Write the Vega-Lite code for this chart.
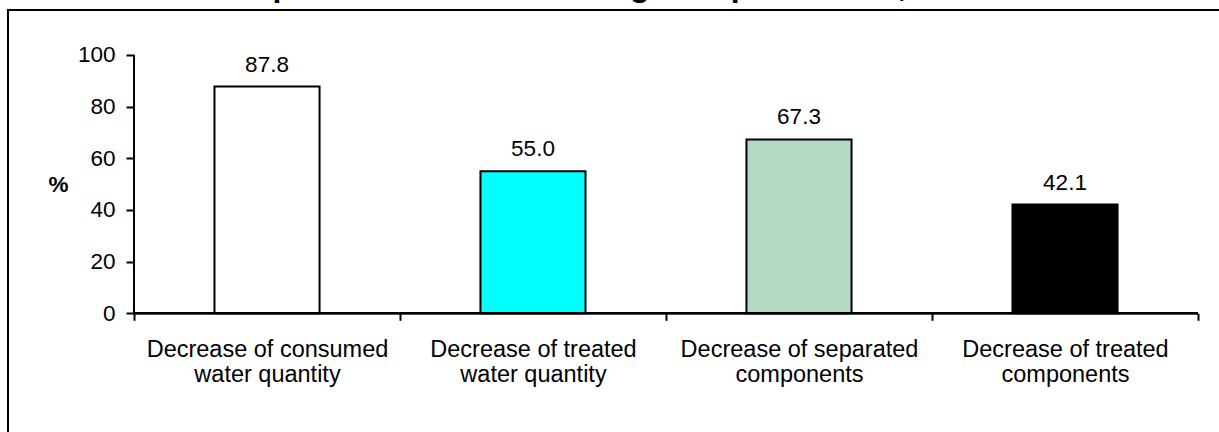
{
  "$schema": "https://vega.github.io/schema/vega-lite/v6.json",
  "width": 1316,
  "height": 433,
  "autosize": "none",
  "padding": {"left": 8, "top": 10, "right": 0, "bottom": 0},
  "background": "white",
  "config": {
    "view": {"stroke": "black", "strokeWidth": 2},
    "font": "Liberation Sans"
  },
  "title": {
    "text": "Important Problems During Al Aqsa Intifada, 2004",
    "font": "Liberation Sans",
    "fontSize": 32,
    "fontWeight": "bold",
    "color": "black",
    "anchor": "middle",
    "dx": -55,
    "dy": 17.5,
    "baseline": "alphabetic",
    "offset": 0
  },
  "data": {
    "values": [
      {"problem": "Decrease of consumed water quantity", "percent": 87.8},
      {"problem": "Decrease of treated water quantity", "percent": 55.0},
      {"problem": "Decrease of separated components", "percent": 67.3},
      {"problem": "Decrease of treated components", "percent": 42.1}
    ]
  },
  "encoding": {
    "x": {
      "field": "problem",
      "type": "nominal",
      "sort": null,
      "scale": {"type": "band", "paddingInner": 0, "paddingOuter": 0.4737},
      "axis": {
        "orient": "bottom",
        "offset": -129.7,
        "domain": false,
        "tickBand": "extent",
        "tickSize": 7,
        "tickWidth": 2,
        "tickColor": "black",
        "labelAngle": 0,
        "labelFont": "Liberation Sans",
        "labelFontSize": 23.5,
        "labelColor": "black",
        "labelPadding": 17,
        "labelLineHeight": 25,
        "labelLimit": 0,
        "labelExpr": "[join(slice(split(datum.label,' '),0,3),' '), join(slice(split(datum.label,' '),3),' ')]",
        "title": null
      }
    },
    "y": {
      "field": "percent",
      "type": "quantitative",
      "scale": {"domain": [-50.21, 117.42], "nice": false, "zero": false},
      "axis": {
        "orient": "left",
        "offset": -126,
        "domain": false,
        "grid": false,
        "values": [0, 20, 40, 60, 80, 100],
        "tickSize": 8,
        "tickWidth": 2,
        "tickColor": "black",
        "labelFont": "Liberation Sans",
        "labelFontSize": 22.5,
        "labelColor": "black",
        "labelPadding": 11,
        "title": "%",
        "titleFont": "Liberation Sans",
        "titleFontSize": 22.5,
        "titleFontWeight": "bold",
        "titleColor": "black",
        "titleAngle": 0,
        "titleAlign": "center",
        "titleBaseline": "middle",
        "titleX": -76,
        "titleY": 174
      }
    }
  },
  "layer": [
    {
      "mark": {"type": "bar", "width": {"band": 0.395}, "stroke": "black", "strokeWidth": 2},
      "encoding": {
        "fill": {
          "field": "problem",
          "type": "nominal",
          "sort": null,
          "scale": {"range": ["#ffffff", "#00ffff", "#b3d9c4", "#000000"]},
          "legend": null
        }
      }
    },
    {
      "mark": {"type": "text", "baseline": "alphabetic", "dy": -15, "fontSize": 22.5, "font": "Liberation Sans", "color": "black"},
      "encoding": {
        "text": {"field": "percent", "type": "quantitative", "format": ".1f"}
      }
    },
    {
      "mark": {"type": "rule", "color": "black", "strokeWidth": 2},
      "encoding": {
        "x": {"datum": "Decrease of consumed water quantity", "bandPosition": 0},
        "y": {"datum": 0},
        "y2": {"datum": 100}
      }
    },
    {
      "mark": {"type": "rule", "color": "black", "strokeWidth": 2},
      "encoding": {
        "x": {"datum": "Decrease of consumed water quantity", "bandPosition": 0},
        "x2": {"datum": "Decrease of treated components", "bandPosition": 1},
        "y": {"datum": 0}
      }
    }
  ]
}
